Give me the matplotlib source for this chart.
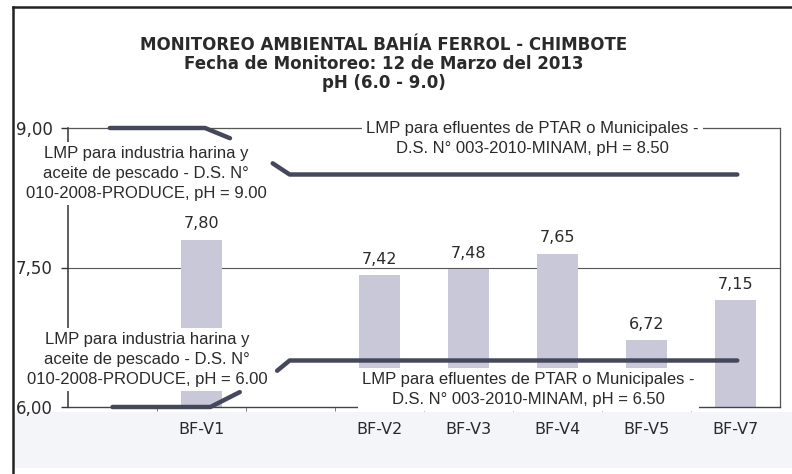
import numpy as np
import matplotlib.pyplot as plt
from matplotlib.lines import Line2D
from matplotlib.patches import Rectangle

# data
categories = ['', 'BF-V1', '', 'BF-V2', 'BF-V3', 'BF-V4', 'BF-V5', 'BF-V7']
ph_values = [np.nan, 7.80, np.nan, 7.42, 7.48, 7.65, 6.72, 7.15]
y_ticks = [6.0, 7.5, 9.0]
y_tick_labels = ['6,00', '7,50', '9,00']

# LMP limits: value, flat part (x0, x1), slanted tail end (x, value)
lmp_values = [9.00, 8.50, 6.50, 6.00]
lmp_flat = [(-0.03, 1.04), (1.99, 7.02), (1.99, 7.02), (0.0, 1.10)]
lmp_tail = [(1.32, 8.89), (1.80, 8.62), (1.85, 6.39), (1.43, 6.16)]
lmp_texts = [
    "LMP para industria harina y\naceite de pescado - D.S. N°\n010-2008-PRODUCE, pH = 9.00",
    "LMP para efluentes de PTAR o Municipales -\nD.S. N° 003-2010-MINAM, pH = 8.50",
    "LMP para efluentes de PTAR o Municipales -\nD.S. N° 003-2010-MINAM, pH = 6.50",
    "LMP para industria harina y\naceite de pescado - D.S. N°\n010-2008-PRODUCE, pH = 6.00",
]
lmp_text_pos = [(0.38, 8.51), (4.72, 8.89), (4.67, 6.19), (0.39, 6.51)]

title = ("MONITOREO AMBIENTAL BAHÍA FERROL - CHIMBOTE\n"
         "Fecha de Monitoreo: 12 de Marzo del 2013\n"
         "pH (6.0 - 9.0)")

bar_color = '#c8c8d9'
ribbon_color = '#45475a'
text_color = '#2a2a2a'

fig = plt.figure(figsize=(7.92, 4.74), dpi=100)
fig.patch.set_facecolor('white')

# faint scan tint under the plot and outer border of the scanned page
fig.patches.append(Rectangle((14/792, 6/474), 1, 56/474, transform=fig.transFigure,
                             facecolor='#f4f5f8', edgecolor='none', zorder=0))
fig.lines.append(Line2D([13/792, 13/792], [0, 1 - 7/474], transform=fig.transFigure,
                        color='#222222', lw=1.8))
fig.lines.append(Line2D([13/792, 1], [1 - 7/474, 1 - 7/474], transform=fig.transFigure,
                        color='#222222', lw=1.8))

ax = fig.add_axes([68/792, (474-407)/474, 712/792, (407-128)/474])
ax.set_zorder(2)
ax.patch.set_alpha(0)
x = np.arange(len(categories))
heights = np.array(ph_values) - 6.0
ax.bar(x, heights, bottom=6.0, width=0.46, color=bar_color, zorder=2)

for xi, v in zip(x, ph_values):
    if np.isnan(v):
        continue
    ax.annotate(f"{v:.2f}".replace('.', ','), (xi, v), xytext=(0, 6),
                textcoords='offset points', ha='center', va='bottom',
                fontsize=11.5, color=text_color, zorder=3)

ax.set_xlim(-0.5, len(categories) - 0.5)
ax.set_ylim(6.0, 9.0)
ax.set_xticks(x)
ax.set_xticklabels(categories, fontsize=11.5, color=text_color)
ax.set_xticks(np.arange(0.5, len(categories) - 1, 1), minor=True)
ax.tick_params(axis='x', which='major', length=0, pad=11)
ax.tick_params(axis='x', which='minor', length=3, direction='out', color='#666666')
ax.set_yticks(y_ticks)
ax.set_yticklabels(y_tick_labels, fontsize=12, color=text_color)
ax.tick_params(axis='y', length=5, width=1, pad=6, color='#333333')

ax.axhline(7.5, color='#555555', lw=0.8, zorder=1)
for side in ['top', 'right']:
    ax.spines[side].set_color('#555555')
    ax.spines[side].set_linewidth(0.9)
ax.spines['left'].set_color('#333333')
ax.spines['left'].set_linewidth(1.1)
ax.spines['bottom'].set_color('#444444')
ax.spines['bottom'].set_linewidth(1.0)

# LMP leader ribbons
for val, (x0, x1), (tx, ty) in zip(lmp_values, lmp_flat, lmp_tail):
    if tx > x1:
        xs, ys = [x0, x1, tx], [val, val, ty]
    else:
        xs, ys = [tx, x0, x1], [ty, val, val]
    ax.plot(xs, ys, color=ribbon_color, lw=3.2, solid_capstyle='round',
            solid_joinstyle='round', zorder=6, clip_on=False)

for txt, (tx, ty) in zip(lmp_texts, lmp_text_pos):
    ax.text(tx, ty, txt, ha='center', va='center', multialignment='center',
            fontfamily='Liberation Sans', fontsize=12, color=text_color,
            linespacing=1.4, zorder=5, clip_on=False,
            bbox=dict(boxstyle='square,pad=0.25', facecolor='white', edgecolor='none'))

fig.text(384/792, 1 - 64/474, title, ha='center', va='center', multialignment='center',
         fontsize=12, fontweight='bold', color=text_color, linespacing=1.05)

fig.savefig('out.png', dpi=100)
